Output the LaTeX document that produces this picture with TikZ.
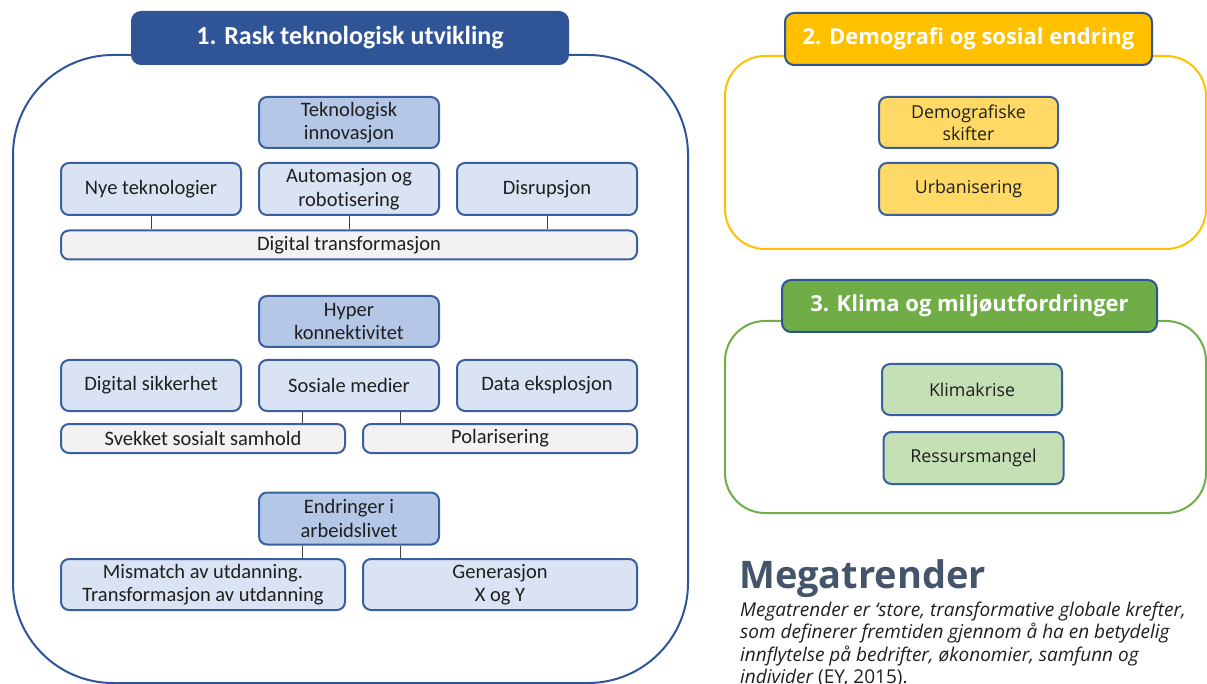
\documentclass[tikz,border=0pt]{standalone}
\usepackage{fontspec}
\setmainfont[Ligatures=NoCommon]{Carlito}
\newfontfamily\osans{Open Sans}
\usetikzlibrary{positioning}

\definecolor{hdblue}{HTML}{2F5597}
\definecolor{bxline}{HTML}{3A5F9E}
\definecolor{bxlight}{HTML}{DAE3F3}
\definecolor{bxmid}{HTML}{B4C7E7}
\definecolor{bxgray}{HTML}{F2F2F2}
\definecolor{hdyellow}{HTML}{FFC000}
\definecolor{bxyellow}{HTML}{FFD966}
\definecolor{hdgreen}{HTML}{70AD47}
\definecolor{bxgreen}{HTML}{C5E0B4}
\definecolor{mtcol}{HTML}{44546A}
\definecolor{txtcol}{HTML}{1F1F1F}

\tikzset{
  box/.style={draw=bxline, line width=2pt, rounded corners=8pt, align=center,
    text=txtcol, inner sep=0pt, font=\fontsize{20.5}{23.5}\selectfont},
  topbox/.style={box, fill=bxmid, minimum width=180, minimum height=51},
  subbox/.style={box, fill=bxlight, minimum width=180, minimum height=52},
  barbox/.style={box, fill=bxgray, minimum height=29},
  header/.style={draw=hdblue, line width=2pt, rounded corners=9pt, text=white,
    minimum height=52, inner sep=0pt},
  panel/.style={line width=2pt, inner sep=0pt},
  rbox/.style={box, minimum width=180, minimum height=52, font=\osans\fontsize{17.8}{22}\selectfont},
  link/.style={draw=black!75, line width=1pt}
}

\begin{document}
\begin{tikzpicture}[x=1pt, y=-1pt]
\useasboundingbox (0,0) rectangle (1207,684);

% panels
\node[panel, draw=hdblue, rounded corners=100pt, minimum width=675, minimum height=628] (P1) at (350.5,369) {};
\node[panel, draw=hdyellow, rounded corners=40pt, minimum width=481, minimum height=193] (P2) at (965.5,152.5) {};
\node[panel, draw=hdgreen, rounded corners=40pt, minimum width=481, minimum height=192] (P3) at (965.5,417) {};

% headers
\node[header, fill=hdblue, minimum width=436, font=\bfseries\fontsize{26}{30}\selectfont] (H1) at (350,38) {1. Rask teknologisk utvikling};
\node[header, fill=hdyellow, minimum width=367, font=\osans\bfseries\fontsize{22}{26}\selectfont] (H2) at (968.5,39) {2. Demografi og sosial endring};
\node[header, fill=hdgreen, minimum width=375, font=\osans\bfseries\fontsize{22}{26}\selectfont] (H3) at (969.5,306) {3. Klima og miljøutfordringer};

% teknologi
\node[topbox] (TekInn) at (349,122.5) {Teknologisk\\innovasjon};
\node[subbox] (Nye) at (151,189) {Nye teknologier};
\node[subbox] (Auto) at (349,189) {Automasjon og\\robotisering};
\node[subbox] (Disr) at (547,189) {Disrupsjon};
\node[barbox, minimum width=576] (DigT) at (349,245) {Digital transformasjon};
\draw[link] (Nye.south) -- (Nye.south |- DigT.north);
\draw[link] (Auto.south) -- (Auto.south |- DigT.north);
\draw[link] (Disr.south) -- (Disr.south |- DigT.north);

% konnektivitet
\node[topbox] (Hyper) at (349,321.5) {Hyper\\konnektivitet};
\node[subbox, minimum height=51] (DigS) at (151,385.5) {Digital sikkerhet};
\node[subbox, minimum height=51] (SosM) at (349,385.5) {Sosiale medier};
\node[subbox, minimum height=51] (DataE) at (547,385.5) {Data eksplosjon};
\node[barbox, minimum width=284] (Svek) at (203,438.5) {Svekket sosialt samhold};
\node[barbox, minimum width=274] (Pol) at (500,438.5) {Polarisering};
\draw[link] ([xshift=-47pt]SosM.south) -- ([xshift=-47pt]SosM.south |- Svek.north);
\draw[link] ([xshift=51pt]SosM.south) -- ([xshift=51pt]SosM.south |- Pol.north);

% arbeidsliv
\node[topbox, minimum height=52] (Endr) at (349,518.5) {Endringer i\\arbeidslivet};
\node[subbox, minimum width=284, minimum height=51] (Mism) at (203,584.5) {Mismatch av utdanning.\\Transformasjon av utdanning};
\node[subbox, minimum width=274, minimum height=51] (Gen) at (500,584.5) {Generasjon\\X og Y};
\draw[link] ([xshift=-47pt]Endr.south) -- ([xshift=-47pt]Endr.south |- Mism.north);
\draw[link] ([xshift=51pt]Endr.south) -- ([xshift=51pt]Endr.south |- Gen.north);

% demografi
\node[rbox, fill=bxyellow, minimum width=179, minimum height=51] (Demo) at (968.5,122.5) {Demografiske\\skifter};
\node[rbox, fill=bxyellow, minimum width=179] (Urb) at (968.5,189) {Urbanisering};

% klima
\node[rbox, fill=bxgreen, minimum height=51] (Klima) at (972,389.5) {Klimakrise};
\node[rbox, fill=bxgreen] (Ress) at (973.5,458) {Ressursmangel};

% tekst
\node[anchor=base west, inner sep=0pt, text=mtcol, font=\osans\bfseries\fontsize{38}{44}\selectfont] (MT) at (739,588) {Megatrender};
\node[anchor=base west, inner sep=0pt, align=left, text=txtcol, font=\osans\itshape\fontsize{19}{22.3}\selectfont] (Def) at (740,683.5)
  {Megatrender er ‘store, transformative globale krefter,\\
   som definerer fremtiden gjennom å ha en betydelig\\
   innflytelse på bedrifter, økonomier, samfunn og\\
   individer {\upshape(EY, 2015).}};
\end{tikzpicture}
\end{document}
